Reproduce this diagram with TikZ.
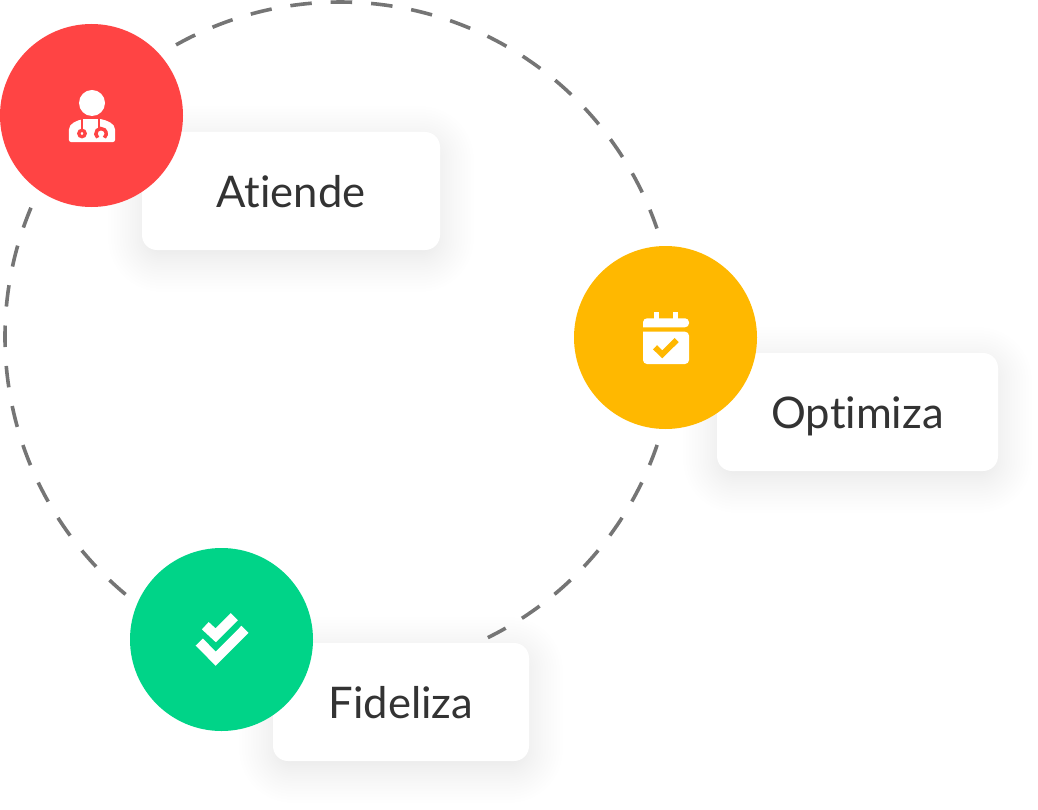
\documentclass[tikz,border=0pt]{standalone}
\usepackage{fontspec}
\setmainfont[Ligatures=NoCommon]{Lato}
\usepackage{xcolor}
\usetikzlibrary{calc,backgrounds}
\definecolor{colred}{HTML}{FF4444}
\definecolor{colyellow}{HTML}{FFB800}
\definecolor{colgreen}{HTML}{00D488}
\definecolor{colring}{HTML}{757575}
\definecolor{coltext}{HTML}{333333}
% soft shadow under a label box
\newcommand{\softshadow}[1]{%
  \foreach \i in {1,...,24}{
    \pgfmathsetmacro{\s}{-0.25+0.92*(\i/24)^1.6}
    \fill[black,opacity=0.005,rounded corners=0.4cm+\s cm]
      ($(#1.south west)+(-\s,-\s-0.16)$) rectangle ($(#1.north east)+(\s,\s-0.16)$);
  }}
\begin{document}
\begin{tikzpicture}[
  labelbox/.style={fill=white,rounded corners=0.3cm,minimum height=2.36cm,
                   text height=0.64cm,text depth=0pt,inner sep=0pt,
                   text=coltext,font=\fontsize{24.8}{30}\selectfont},
  dot/.style={circle,minimum size=3.66cm,inner sep=0pt},
  ring/.style={colring,line width=0.072cm,dash pattern=on 0.43cm off 0.38cm},
  icon/.style={x=0.02cm,y=0.02cm}
]
  \useasboundingbox (0,0) rectangle (20.76,16.18);
  \coordinate (ringc) at (6.8,9.44);

  % boxes
  \node[labelbox,minimum width=5.96cm] (atiende) at (5.82,12.36) {Atiende};
  \node[labelbox,minimum width=5.62cm] (optimiza) at (17.15,7.94) {Optimiza};
  \node[labelbox,minimum width=5.12cm] (fideliza) at (8.02,2.14) {Fideliza};

  % shadows and ring pieces go behind the boxes
  \begin{pgfonlayer}{background}
    \softshadow{atiende}
    \softshadow{optimiza}
    \softshadow{fideliza}
    \coordinate (ringa) at ($(ringc)+(119.3:6.7)$);
    \coordinate (ringb) at ($(ringc)+(-18.8:6.7)$);
    \coordinate (ringd) at ($(ringc)+(230.2:6.7)$);
    \draw[ring] (ringa) arc[start angle=119.3,end angle=18.9,radius=6.7cm];
    \draw[ring] (ringb) arc[start angle=-18.8,end angle=-63.8,radius=6.7cm];
    \draw[ring] (ringd) arc[start angle=230.2,end angle=157.3,radius=6.7cm];
  \end{pgfonlayer}

  % circles
  \node[dot,fill=colred] (doctor) at (1.83,13.87) {};
  \node[dot,fill=colyellow] (calendar) at (13.31,9.43) {};
  \node[dot,fill=colgreen] (checks) at (4.43,3.39) {};

  % doctor icon
  \begin{scope}[shift={(doctor.center)},icon]
    \fill[white] (0.5,12.5) circle[radius=13];
    \fill[white] (-20.5,-26.5) -- (21.5,-26.5) arc[start angle=-90,end angle=0,radius=0.04cm]
      -- (23.5,-14) .. controls (23.5,-8) and (16,-5) .. (9,-3.5) -- (-8,-3.5)
      .. controls (-15,-5) and (-22.5,-8) .. (-22.5,-14) -- (-22.5,-24.5)
      arc[start angle=180,end angle=270,radius=0.04cm] -- cycle;
    \draw[colred,line width=0.035cm] (-9.5,-3.5) -- (-9.5,-15);
    \draw[colred,line width=0.065cm] (-9.5,-18) circle[radius=3.2];
    \draw[colred,line width=0.035cm] (7.5,-3.5) -- (7.5,-13);
    \draw[colred,line width=0.07cm] (6.2,-22.2)
      arc[start angle=-130,end angle=-410,radius=0.104cm];
  \end{scope}

  % calendar icon
  \begin{scope}[shift={(calendar.center)},icon]
    \fill[white] (-11.5,15) rectangle (-6.2,25.5);
    \fill[white] (7.2,15) rectangle (12.8,25.5);
    \fill[white,rounded corners=0.08cm] (-22.5,10.2) -- (-22.5,19.2) -- (23.5,19.2) -- (23.5,10.2) [sharp corners] -- cycle;
    \fill[white,rounded corners=0.08cm] (-22.5,5.8) -- (-22.5,-26.5) -- (23.5,-26.5) -- (23.5,5.8) [sharp corners] -- cycle;
    \draw[colyellow,line width=0.115cm] (-10.5,-9.8) -- (-3.2,-16.8) -- (11.2,-2.5);
  \end{scope}

  % double check icon
  \begin{scope}[shift={(checks.center)},icon]
    \draw[white,line width=0.2cm] (-16.2,13.8) -- (-5.8,4.2) -- (12.8,22.8);
    \draw[white,line width=0.2cm] (-22.2,-2.5) -- (-5.8,-19.2) -- (23.5,10.2);
  \end{scope}
\end{tikzpicture}
\end{document}
